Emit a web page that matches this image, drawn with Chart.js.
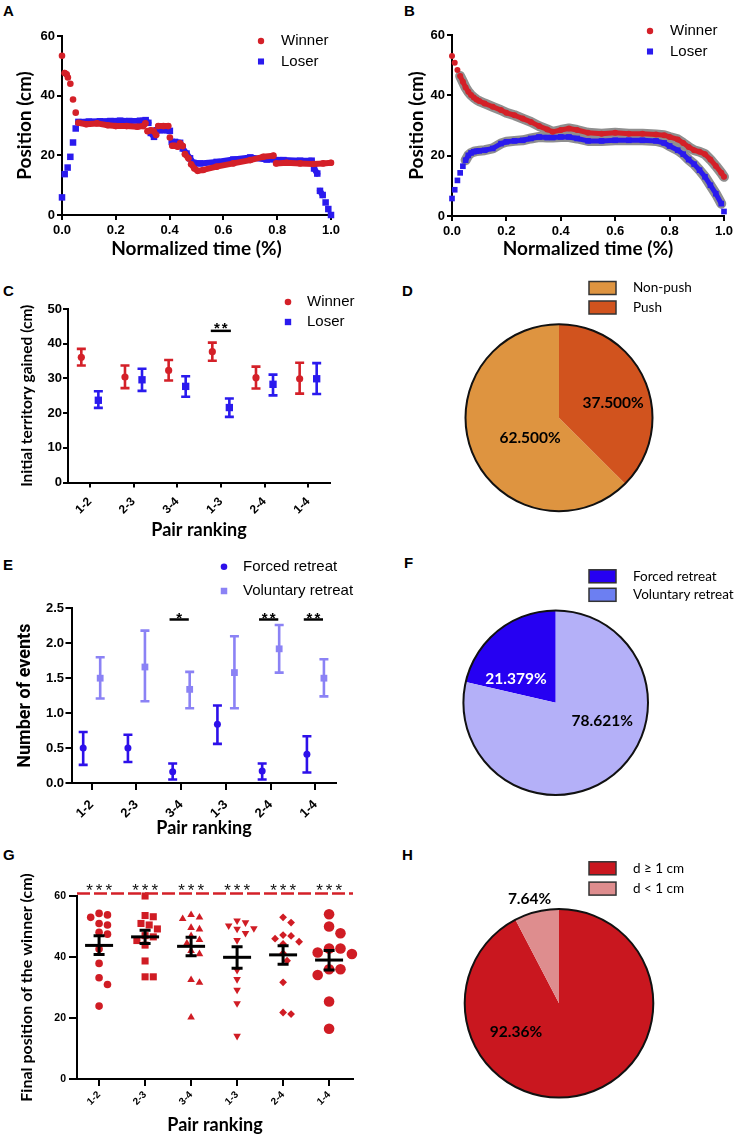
<!DOCTYPE html>
<html><head><meta charset="utf-8">
<script src="https://cdn.jsdelivr.net/npm/chart.js@4.4.1/dist/chart.umd.min.js"></script>
<style>
html,body{margin:0;padding:0;background:#fff}
body{position:relative;width:739px;height:1144px;overflow:hidden}
canvas{position:absolute}
.pl{position:absolute;font:bold 15px "Liberation Sans",Arial,sans-serif;line-height:15px;color:#000}
</style></head><body>
<div class="pl" style="left:3px;top:3px">A</div>
<div class="pl" style="left:404px;top:3px">B</div>
<div class="pl" style="left:3px;top:283px">C</div>
<div class="pl" style="left:402px;top:283px">D</div>
<div class="pl" style="left:3px;top:557px">E</div>
<div class="pl" style="left:404px;top:555px">F</div>
<div class="pl" style="left:3px;top:847px">G</div>
<div class="pl" style="left:402px;top:847px">H</div>
<script>
// ================= DATA =================
const pairLabels = ['1-2', '2-3', '3-4', '1-3', '2-4', '1-4'];

// Panel A – single example trajectory
const aWinnerX = [0, 0.01, 0.017, 0.022, 0.031, 0.041, 0.051, 0.061, 0.09, 0.13, 0.17, 0.20, 0.24, 0.28, 0.302, 0.31, 0.318, 0.33, 0.34, 0.35, 0.358, 0.377, 0.395, 0.401, 0.41, 0.42, 0.43, 0.439, 0.449, 0.457, 0.47, 0.48, 0.492, 0.504, 0.525, 0.575, 0.637, 0.70, 0.748, 0.786, 0.796, 0.835, 0.885, 0.934, 0.971, 1.0];
const aWinnerY = [53.4, 47.6, 47.2, 46.1, 44.0, 38.7, 34.3, 30.9, 30.4, 30.7, 30.1, 29.8, 29.8, 29.6, 29.8, 30.7, 28.1, 28.4, 28.2, 26.8, 29.8, 29.8, 29.8, 26.0, 23.2, 23.2, 22.9, 24.0, 23.1, 20.4, 19.0, 17.0, 15.6, 14.8, 15.1, 16.2, 17.3, 18.4, 19.5, 19.9, 17.3, 17.5, 17.3, 17.1, 17.3, 17.5];
const aLoserX = [0, 0.01, 0.021, 0.031, 0.041, 0.051, 0.061, 0.10, 0.141, 0.18, 0.216, 0.25, 0.29, 0.311, 0.321, 0.33, 0.342, 0.352, 0.364, 0.389, 0.401, 0.408, 0.42, 0.439, 0.449, 0.463, 0.476, 0.488, 0.513, 0.575, 0.637, 0.70, 0.761, 0.823, 0.885, 0.928, 0.937, 0.949, 0.959, 0.969, 0.98, 0.99, 1.0];
const aLoserY = [5.9, 13.7, 15.9, 19.5, 24.3, 29.0, 31.2, 31.3, 31.4, 31.5, 31.6, 31.5, 31.6, 31.8, 30.9, 27.5, 26.2, 28.4, 28.4, 28.4, 28.2, 24.5, 24.5, 24.2, 22.3, 20.6, 19.0, 17.5, 17.3, 17.8, 18.6, 19.3, 18.6, 18.4, 18.2, 18.2, 15.6, 13.9, 8.1, 6.7, 4.2, 2.0, 0];

// Panel B – average trajectories
const bTime = [0, 0.01, 0.02, 0.03, 0.04, 0.05, 0.06, 0.07, 0.08, 0.09, 0.10, 0.12, 0.15, 0.18, 0.20, 0.23, 0.26, 0.29, 0.32, 0.35, 0.37, 0.40, 0.43, 0.46, 0.50, 0.55, 0.60, 0.65, 0.70, 0.75, 0.78, 0.80, 0.83, 0.85, 0.87, 0.89, 0.91, 0.93, 0.95, 0.97, 0.99, 1.0];
const bWinner = [53.0, 50.8, 48.4, 46.4, 44.5, 42.6, 41.2, 40.1, 39.3, 38.6, 38.1, 37.3, 36.2, 35.1, 34.2, 33.4, 32.3, 31.2, 29.8, 28.7, 27.9, 28.5, 29.0, 28.5, 27.6, 27.3, 27.6, 27.3, 27.3, 27.0, 26.8, 26.2, 25.4, 24.2, 22.9, 21.8, 21.3, 20.5, 18.7, 16.6, 14.3, 13.0];
const bLoser = [5.8, 8.7, 11.8, 14.3, 16.5, 18.5, 20.1, 20.9, 21.3, 21.5, 21.6, 21.8, 22.4, 24.0, 24.6, 24.9, 25.1, 25.7, 26.2, 26.0, 26.0, 26.2, 26.2, 25.7, 24.9, 24.9, 25.1, 25.1, 25.1, 24.9, 24.2, 23.2, 21.8, 20.5, 18.7, 17.2, 15.2, 13.0, 10.2, 7.4, 4.1, 1.5];

// Panel C – initial territory gained (mean, error range)
const cWinnerMean = [36.1, 30.4, 32.3, 37.7, 30.2, 29.9];
const cWinnerLow  = [33.7, 27.2, 29.4, 35.1, 27.1, 25.6];
const cWinnerHigh = [38.5, 33.7, 35.3, 40.3, 33.4, 34.5];
const cLoserMean  = [23.7, 29.6, 27.7, 21.6, 28.3, 29.9];
const cLoserLow   = [21.5, 26.4, 24.7, 18.9, 25.1, 25.5];
const cLoserHigh  = [26.3, 32.8, 30.6, 24.2, 31.1, 34.4];
const cSigCat = [3];
const cSigMark = ['**'];
const cSigLevel = [43.7];

// Panel D
const dLabels = ['Non-push', 'Push'];
const dValues = [62.5, 37.5];

// Panel E – number of events
const eForcedMean = [0.50, 0.50, 0.16, 0.84, 0.17, 0.41];
const eForcedLow  = [0.26, 0.30, 0.05, 0.56, 0.05, 0.15];
const eForcedHigh = [0.73, 0.69, 0.28, 1.11, 0.28, 0.67];
const eVolMean = [1.50, 1.66, 1.34, 1.58, 1.92, 1.50];
const eVolLow  = [1.21, 1.17, 1.07, 1.07, 1.58, 1.24];
const eVolHigh = [1.80, 2.18, 1.59, 2.10, 2.26, 1.77];
const eSigCat = [2, 4, 5];
const eSigMark = ['*', '**', '**'];
const eSigLevel = [2.34, 2.34, 2.34];

// Panel F
const fLabels = ['Forced retreat', 'Voluntary retreat'];
const fValues = [21.379, 78.621];

// Panel G – final position of the winner
const g12 = [53.8, 53.0, 54.3, 50.5, 51.0, 47.5, 48.1, 42.6, 37.9, 33.2, 31.0, 23.9];
const g23 = [60.0, 53.2, 53.6, 50.5, 51.0, 49.2, 47.0, 46.6, 45.4, 43.9, 38.7, 33.5, 33.5];
const g34 = [53.0, 53.8, 52.5, 49.6, 49.1, 46.9, 45.6, 44.5, 42.0, 41.0, 32.5, 31.6, 20.2];
const g13 = [51.3, 51.9, 49.4, 49.2, 50.3, 47.8, 45.5, 35.7, 32.7, 29.2, 24.8, 14.1];
const g24 = [53.0, 51.3, 47.2, 46.9, 46.0, 45.0, 44.3, 41.2, 38.8, 31.7, 21.3, 21.8];
const g14 = [54.0, 50.0, 47.8, 42.8, 42.8, 41.5, 41.0, 36.0, 34.1, 36.0, 25.4, 16.5];
const gMean = [43.8, 46.6, 43.5, 39.9, 40.7, 39.0];
const gLow  = [40.8, 44.4, 40.4, 36.3, 37.6, 35.7];
const gHigh = [47.0, 48.8, 46.5, 43.4, 43.7, 42.1];
const gLimit = 60.8;
const gSigMark = ['***', '***', '***', '***', '***', '***'];

// Panel H
const hLabels = ['d \u2265 1 cm', 'd < 1 cm'];
const hValues = [92.36, 7.64];

// ================= STYLE / HELPERS =================
const ARIAL = '"Liberation Sans", Arial, sans-serif';
const LATO = 'Lato, "Open Sans", sans-serif';
const ROBOTO = 'Roboto, "Liberation Sans", sans-serif';
const RED = '#D42028', BLUE = '#2A1AEE', GREY = '#8F8F8F';
Chart.defaults.font.family = ARIAL;
Chart.defaults.color = '#000';
Chart.defaults.animation = false;

function makeCanvas(b) {
  const c = document.createElement('canvas');
  c.width = b.w; c.height = b.h;
  Object.assign(c.style, {left: b.x + 'px', top: b.y + 'px', width: b.w + 'px', height: b.h + 'px'});
  document.body.appendChild(c);
  return c;
}
const fnt = (family, size, weight) => ({family, size, weight: weight || 'normal', lineHeight: 1.2});

function cartesian(box, area, X, Y) {
  const xLH = X.titleFont.size * 1.2, yLH = Y.titleFont.size * 1.2;
  const gridOf = tl => ({drawOnChartArea: false, drawTicks: true, tickLength: tl, tickWidth: 2, tickColor: '#000', color: '#000', lineWidth: 2});
  const xs = {
    type: 'linear', position: 'bottom', min: X.min, max: X.max,
    grid: gridOf(X.tickLen), border: {display: true, color: '#000', width: 2},
    ticks: {font: X.tickFont, color: '#000', padding: X.tickPad, autoSkip: false, maxRotation: X.rot || 0, minRotation: X.rot || 0, includeBounds: false},
    title: {display: true, text: X.title, font: X.titleFont, color: '#000', padding: {top: 0, bottom: (box.y + box.h) - X.titleCenter - xLH / 2}},
    afterFit: s => { s.height = box.y + box.h - area.b; }
  };
  if (X.labels) {
    xs.afterBuildTicks = s => { s.ticks = X.labels.map((_, i) => ({value: i})); };
    xs.ticks.callback = v => X.labels[v];
  } else {
    xs.ticks.stepSize = X.step;
    xs.ticks.callback = v => Number(v).toFixed(X.dec);
  }
  const ys = {
    type: 'linear', position: 'left', min: Y.min, max: Y.max,
    grid: gridOf(Y.tickLen), border: {display: true, color: '#000', width: 2},
    ticks: {font: Y.tickFont, color: '#000', padding: Y.tickPad, stepSize: Y.step, includeBounds: false, callback: v => Number(v).toFixed(Y.dec)},
    title: {display: true, text: Y.title, font: Y.titleFont, color: '#000', padding: {top: Y.titleCenter - box.x - yLH / 2, bottom: 0}},
    afterFit: s => { s.width = area.l - box.x; }
  };
  return {
    responsive: false, maintainAspectRatio: false, animation: false, devicePixelRatio: 1, events: [],
    layout: {padding: {left: 0, right: box.x + box.w - area.r, top: area.t - box.y, bottom: 0}},
    plugins: {legend: {display: false}, tooltip: {enabled: false}},
    scales: {x: xs, y: ys}
  };
}

function drawMarker(ctx, style, r, rot, x, y) {
  ctx.beginPath();
  if (style === 'circle') ctx.arc(x, y, r, 0, Math.PI * 2);
  else if (style === 'rect') { const s = r * Math.SQRT1_2; ctx.rect(x - s, y - s, 2 * s, 2 * s); }
  else if (style === 'triangle') {
    let a = (rot || 0) * Math.PI / 180;
    ctx.moveTo(x + Math.sin(a) * r, y - Math.cos(a) * r);
    a += 2 * Math.PI / 3; ctx.lineTo(x + Math.sin(a) * r, y - Math.cos(a) * r);
    a += 2 * Math.PI / 3; ctx.lineTo(x + Math.sin(a) * r, y - Math.cos(a) * r);
    ctx.closePath();
  }
  ctx.fill();
}

function markerLegend(box, x, y, dy, textDx, font) {
  return { id: 'markerLegend', afterDraw(chart) {
    const ctx = chart.ctx; ctx.save();
    chart.data.datasets.filter(d => d.label).forEach((ds, k) => {
      const px = x - box.x, py = y - box.y + k * dy;
      ctx.fillStyle = ds.pointBackgroundColor;
      drawMarker(ctx, ds.pointStyle, ds.legendRadius || ds.pointRadius, 0, px, py);
      ctx.fillStyle = '#000'; ctx.font = font; ctx.textAlign = 'left'; ctx.textBaseline = 'middle';
      ctx.fillText(ds.label, px + textDx, py);
    });
    ctx.restore();
  }};
}

function errorBars(after) {
  const fn = chart => {
    const ctx = chart.ctx, ys = chart.scales.y;
    chart.data.datasets.forEach((ds, i) => {
      if (!ds.errLow) return;
      const meta = chart.getDatasetMeta(i);
      ctx.save(); ctx.strokeStyle = ds.errColor; ctx.lineWidth = ds.errWidth; ctx.lineCap = 'butt';
      meta.data.forEach((pt, j) => {
        const x = pt.x, y1 = ys.getPixelForValue(ds.errLow[j]), y2 = ys.getPixelForValue(ds.errHigh[j]), c = ds.errCap;
        ctx.beginPath();
        ctx.moveTo(x, y1); ctx.lineTo(x, y2);
        ctx.moveTo(x - c, y1); ctx.lineTo(x + c, y1);
        ctx.moveTo(x - c, y2); ctx.lineTo(x + c, y2);
        ctx.stroke();
      });
      ctx.restore();
    });
  };
  return after ? {id: 'errorBarsA', afterDatasetsDraw: fn} : {id: 'errorBarsB', beforeDatasetsDraw: fn};
}

function sigMarks(items, st) {
  return { id: 'sigMarks', afterDatasetsDraw(chart) {
    const ctx = chart.ctx, xs = chart.scales.x, ys = chart.scales.y;
    ctx.save();
    items.forEach(it => {
      const y = ys.getPixelForValue(it.y);
      if (it.x1 != null) {
        ctx.strokeStyle = st.lineColor; ctx.lineWidth = st.lineWidth; ctx.setLineDash(st.dash || []);
        ctx.beginPath(); ctx.moveTo(xs.getPixelForValue(it.x1), y); ctx.lineTo(xs.getPixelForValue(it.x2), y); ctx.stroke();
      }
      if (it.text) {
        ctx.setLineDash([]); ctx.font = st.font; ctx.fillStyle = st.textColor;
        ctx.textAlign = 'center'; ctx.textBaseline = 'alphabetic';
        if ('letterSpacing' in ctx) ctx.letterSpacing = st.spacing || '0px';
        const sp = parseFloat(st.spacing || '0');
        ctx.fillText(it.text, xs.getPixelForValue(it.tx) + sp / 2, y + st.dy);
        if ('letterSpacing' in ctx) ctx.letterSpacing = '0px';
      }
    });
    ctx.restore();
  }};
}

const steep = c => Math.abs(c.p1.y - c.p0.y) > 2.2 * Math.abs(c.p1.x - c.p0.x);
function trace(label, xs, ys, color, style, r, width, order, band) {
  const line = band ? GREY : color;
  return {
    label: band ? undefined : label,
    data: xs.map((x, i) => ({x, y: ys[i]})),
    borderColor: line, borderWidth: width, tension: 0, fill: false,
    borderCapStyle: 'round', borderJoinStyle: 'round',
    segment: {borderColor: c => steep(c) ? 'rgba(0,0,0,0)' : line},
    pointStyle: style, pointRadius: band ? 0 : r, pointBackgroundColor: color, pointBorderWidth: 0,
    legendRadius: style === 'rect' ? 4.3 : 3.2,
    order, clip: false
  };
}

// ================= PANEL A =================
(function () {
  const box = {x: 0, y: 20, w: 370, h: 245}, area = {l: 62, t: 36, r: 331, b: 215};
  const opts = cartesian(box, area,
    {min: 0, max: 1, step: 0.2, dec: 1, tickLen: 5, tickPad: 3, tickFont: fnt(ARIAL, 13, 'bold'), title: 'Normalized time (%)', titleFont: fnt(LATO, 19, 'bold'), titleCenter: 249},
    {min: 0, max: 60, step: 20, dec: 0, tickLen: 5, tickPad: 2, tickFont: fnt(ARIAL, 13, 'bold'), title: 'Position (cm)', titleFont: fnt(LATO, 19, 'bold'), titleCenter: 25});
  new Chart(makeCanvas(box), {
    type: 'line',
    data: {datasets: [
      trace('Winner', aWinnerX, aWinnerY, RED, 'circle', 3.3, 6, 0),
      trace('Loser', aLoserX, aLoserY, BLUE, 'rect', 4.6, 6, 1)
    ]},
    options: opts,
    plugins: [markerLegend(box, 261, 41, 20.5, 20, '15px ' + ARIAL)]
  });
})();

// ================= PANEL B =================
(function () {
  const box = {x: 370, y: 20, w: 369, h: 245}, area = {l: 452, t: 35, r: 724, b: 216};
  const opts = cartesian(box, area,
    {min: 0, max: 1, step: 0.2, dec: 1, tickLen: 5, tickPad: 3, tickFont: fnt(ARIAL, 13, 'bold'), title: 'Normalized time (%)', titleFont: fnt(LATO, 19, 'bold'), titleCenter: 249},
    {min: 0, max: 60, step: 20, dec: 0, tickLen: 5, tickPad: 2, tickFont: fnt(ARIAL, 13, 'bold'), title: 'Position (cm)', titleFont: fnt(LATO, 19, 'bold'), titleCenter: 417});
  new Chart(makeCanvas(box), {
    type: 'line',
    data: {datasets: [
      trace('Winner', bTime, bWinner, RED, 'circle', 3.0, 5, 0),
      trace('Loser', bTime, bLoser, BLUE, 'rect', 4.0, 5, 1),
      trace('', bTime, bWinner, RED, 'circle', 0, 10, 2, true),
      trace('', bTime, bLoser, BLUE, 'rect', 0, 10, 3, true)
    ]},
    options: opts,
    plugins: [markerLegend(box, 650, 31, 20.5, 20, '15px ' + ARIAL)]
  });
})();

// ================= PANEL C =================
(function () {
  const box = {x: 0, y: 280, w: 370, h: 265}, area = {l: 68, t: 309, r: 330, b: 482.5};
  const dodge = 0.195;
  const opts = cartesian(box, area,
    {min: -0.5, max: 5.5, labels: pairLabels, rot: 45, tickLen: 5, tickPad: 7, tickFont: fnt(ARIAL, 12, 'bold'), title: 'Pair ranking', titleFont: fnt(LATO, 18, 'bold'), titleCenter: 530},
    {min: 0, max: 50, step: 10, dec: 0, tickLen: 5, tickPad: 1, tickFont: fnt(ARIAL, 13, 'bold'), title: 'Initial territory gained (cm)', titleFont: fnt(LATO, 15.5, 'bold'), titleCenter: 27});
  const items = cSigCat.map((c, k) => ({x1: c - 0.23, x2: c + 0.23, tx: c, y: cSigLevel[k], text: cSigMark[k]}));
  new Chart(makeCanvas(box), {
    type: 'scatter',
    data: {datasets: [
      {label: 'Winner', data: cWinnerMean.map((v, i) => ({x: i - dodge, y: v})), pointStyle: 'circle', pointRadius: 3.6, pointBackgroundColor: RED, pointBorderWidth: 0,
       errLow: cWinnerLow, errHigh: cWinnerHigh, errColor: RED, errWidth: 2.6, errCap: 4.5, clip: false, legendRadius: 3.3},
      {label: 'Loser', data: cLoserMean.map((v, i) => ({x: i + dodge, y: v})), pointStyle: 'rect', pointRadius: 5.2, pointBackgroundColor: BLUE, pointBorderWidth: 0,
       errLow: cLoserLow, errHigh: cLoserHigh, errColor: BLUE, errWidth: 2.6, errCap: 4.5, clip: false, legendRadius: 4.5}
    ]},
    options: opts,
    plugins: [errorBars(false), sigMarks(items, {lineColor: '#000', lineWidth: 2.5, font: 'bold 15px ' + ARIAL, textColor: '#000', dy: 1.8, spacing: '2px'}),
              markerLegend(box, 288, 302, 20, 19, '15px ' + ARIAL)]
  });
})();

// ================= PANEL E =================
(function () {
  const box = {x: 0, y: 555, w: 370, h: 290}, area = {l: 72, t: 608.3, r: 336, b: 783};
  const dodge = 0.19;
  const opts = cartesian(box, area,
    {min: -0.44, max: 5.46, labels: pairLabels, rot: 45, tickLen: 7, tickPad: 7, tickFont: fnt(ARIAL, 13, 'bold'), title: 'Pair ranking', titleFont: fnt(LATO, 18, 'bold'), titleCenter: 828},
    {min: 0, max: 2.5, step: 0.5, dec: 1, tickLen: 6.5, tickPad: 1.5, tickFont: fnt(ARIAL, 13, 'bold'), title: 'Number of events', titleFont: fnt(ROBOTO, 18, 'bold'), titleCenter: 25});
  const items = eSigCat.map((c, k) => ({x1: c - 0.26, x2: c + 0.17, tx: c - 0.045, y: eSigLevel[k], text: eSigMark[k]}));
  const FORCED = '#2D10EA', VOL = '#8B82F5';
  new Chart(makeCanvas(box), {
    type: 'scatter',
    data: {datasets: [
      {label: 'Forced retreat', data: eForcedMean.map((v, i) => ({x: i - dodge, y: v})), pointStyle: 'circle', pointRadius: 3.5, pointBackgroundColor: FORCED, pointBorderWidth: 0,
       errLow: eForcedLow, errHigh: eForcedHigh, errColor: FORCED, errWidth: 2.6, errCap: 4.5, clip: false, legendRadius: 3.3},
      {label: 'Voluntary retreat', data: eVolMean.map((v, i) => ({x: i + dodge, y: v})), pointStyle: 'rect', pointRadius: 4.8, pointBackgroundColor: VOL, pointBorderWidth: 0,
       errLow: eVolLow, errHigh: eVolHigh, errColor: VOL, errWidth: 2.6, errCap: 4.5, clip: false, legendRadius: 4.6}
    ]},
    options: opts,
    plugins: [errorBars(false), sigMarks(items, {lineColor: '#000', lineWidth: 2.5, font: 'bold 15px ' + ARIAL, textColor: '#000', dy: 3.3, spacing: '2px'}),
              markerLegend(box, 224, 566.7, 24.3, 19, '15px ' + ARIAL)]
  });
})();

// ================= PANEL G =================
(function () {
  const box = {x: 0, y: 840, w: 370, h: 304}, area = {l: 77, t: 896, r: 353, b: 1079};
  const xMin = -0.48, xMax = 5.52;
  const opts = cartesian(box, area,
    {min: xMin, max: xMax, labels: pairLabels, rot: 45, tickLen: 7, tickPad: 3, tickFont: fnt(ARIAL, 10, 'bold'), title: 'Pair ranking', titleFont: fnt(LATO, 18, 'bold'), titleCenter: 1125},
    {min: 0, max: 60, step: 20, dec: 0, tickLen: 8, tickPad: 3, tickFont: fnt(ARIAL, 10.5, 'bold'), title: 'Final position of the winner (cm)', titleFont: fnt(LATO, 16, 'bold'), titleCenter: 27});
  const groups = [g12, g23, g34, g13, g24, g14];
  const styles = [['circle', 3.8, 0, 8.4], ['rect', 5.0, 0, 8.2], ['triangle', 4.4, 0, 8.4], ['triangle', 4.4, 180, 8.4], ['rectRot', 3.9, 0, 8.0], ['circle', 5.3, 0, 11.4]];
  const pxY = (area.b - area.t) / 60, pxX = (area.r - area.l) / (xMax - xMin);
  function swarm(vals, d) {
    const idx = vals.map((_, i) => i).sort((a, b) => vals[b] - vals[a]);
    const placed = [], off = new Array(vals.length).fill(0);
    idx.forEach(i => {
      const y = vals[i] * pxY; let chosen = 0;
      for (let k = 0; k < 60; k++) {
        const cand = k === 0 ? 0 : (k % 2 ? 1 : -1) * Math.ceil(k / 2) * d * 0.5;
        if (placed.every(p => Math.hypot(p.x - cand, p.y - y) >= d * 0.98)) { chosen = cand; break; }
      }
      placed.push({x: chosen, y}); off[i] = chosen / pxX;
    });
    return off;
  }
  const ds = groups.map((vals, g) => {
    const [st, r, rot, d] = styles[g];
    const off = swarm(vals, d);
    return {data: vals.map((v, k) => ({x: g + off[k], y: v})), pointStyle: st, pointRadius: r, pointRotation: rot,
            pointBackgroundColor: '#D01C24', pointBorderWidth: 0, clip: false, order: 1};
  });
  ds.push({data: gMean.map((m, i) => ({x: i, y: m})), pointStyle: 'line', pointRadius: 14, pointBorderWidth: 3, pointBorderColor: '#000',
           pointBackgroundColor: '#000', errLow: gLow, errHigh: gHigh, errColor: '#000', errWidth: 3, errCap: 5.5, clip: false, order: 0});
  const items = [{x1: xMin, x2: xMax, y: gLimit}].concat(gSigMark.map((t, i) => ({tx: i, y: gLimit, text: t})));
  new Chart(makeCanvas(box), {
    type: 'scatter',
    data: {datasets: ds},
    options: opts,
    plugins: [errorBars(true), sigMarks(items, {lineColor: '#D42028', lineWidth: 2.5, dash: [13, 4], font: '17px ' + ARIAL, textColor: '#111', dy: 2, spacing: '3px'})]
  });
})();

// ================= PIES =================
function pieDecor(box, o) {
  return { id: 'pieDecor', afterDatasetsDraw(chart) {
    const ctx = chart.ctx, meta = chart.getDatasetMeta(0), data = chart.data.datasets[0].data;
    const a0 = meta.data[0];
    ctx.save();
    ctx.beginPath(); ctx.arc(a0.x, a0.y, a0.outerRadius, 0, 2 * Math.PI);
    ctx.lineWidth = 2; ctx.strokeStyle = '#111'; ctx.stroke();
    ctx.font = o.labelFont; ctx.textAlign = 'center'; ctx.textBaseline = 'middle';
    meta.data.forEach((a, i) => {
      const ang = (a.startAngle + a.endAngle) / 2 + o.shift[i] * Math.PI / 180, r = a.outerRadius * o.frac[i];
      ctx.fillStyle = o.labelColors[i];
      ctx.fillText(data[i].toFixed(o.dec) + '%', a.x + Math.cos(ang) * r, a.y + Math.sin(ang) * r);
    });
    chart.data.labels.forEach((lab, i) => {
      const cy = o.legendY + i * o.legendGap - box.y, lx = o.legendX - box.x;
      ctx.fillStyle = o.legendColors[i]; ctx.fillRect(lx, cy - 6.5, 27, 13);
      ctx.lineWidth = 1.5; ctx.strokeStyle = '#333'; ctx.strokeRect(lx, cy - 6.5, 27, 13);
      ctx.fillStyle = '#000'; ctx.font = o.legendFont; ctx.textAlign = 'left'; ctx.textBaseline = 'middle';
      ctx.fillText(lab, o.textX - box.x, cy);
    });
    ctx.restore();
  }};
}
function pie(box, cx, cy, r, labels, values, colors, rotation, deco) {
  new Chart(makeCanvas(box), {
    type: 'pie',
    data: {labels, datasets: [{data: values, backgroundColor: colors, borderWidth: 0}]},
    options: {
      responsive: false, maintainAspectRatio: false, animation: false, devicePixelRatio: 1, events: [], rotation,
      layout: {padding: {left: cx - r - box.x, top: cy - r - box.y, right: box.x + box.w - (cx + r), bottom: box.y + box.h - (cy + r)}},
      plugins: {legend: {display: false}, tooltip: {enabled: false}}
    },
    plugins: [pieDecor(box, deco)]
  });
}
const PIE_LABEL = 'bold 15.5px ' + LATO, PIE_LEG = '13.5px ' + LATO;
pie({x: 370, y: 270, w: 369, h: 270}, 559, 417.7, 93.5, dLabels, dValues, ['#DE9440', '#D1531E'],
    360 * dValues[1] / (dValues[0] + dValues[1]),
    {frac: [0.375, 0.6], shift: [-12, 7.3], labelColors: ['#000', '#000'], labelFont: PIE_LABEL, dec: 3,
     legendX: 589, legendY: 288, legendGap: 19.5, textX: 633, legendFont: PIE_LEG, legendColors: ['#DE9440', '#D1531E']});
pie({x: 370, y: 550, w: 369, h: 285}, 555.7, 702.7, 92.3, fLabels, fValues, ['#2600F2', '#B4B0F8'],
    360 - 360 * fValues[0] / (fValues[0] + fValues[1]),
    {frac: [0.5, 0.54], shift: [-21, -30.4], labelColors: ['#fff', '#000'], labelFont: PIE_LABEL, dec: 3,
     legendX: 589, legendY: 576.3, legendGap: 18.5, textX: 633, legendFont: PIE_LEG, legendColors: ['#2600F2', '#6C7FF2']});
pie({x: 370, y: 840, w: 369, h: 304}, 559, 1003.3, 94.3, hLabels, hValues, ['#C9171F', '#DE8D8E'], 0,
    {frac: [0.55, 1.15], shift: [69.8, -2], labelColors: ['#000', '#000'], labelFont: PIE_LABEL, dec: 2,
     legendX: 589, legendY: 868.3, legendGap: 20.3, textX: 633, legendFont: PIE_LEG, legendColors: ['#C9171F', '#DE8D8E']});
</script>
</body></html>
